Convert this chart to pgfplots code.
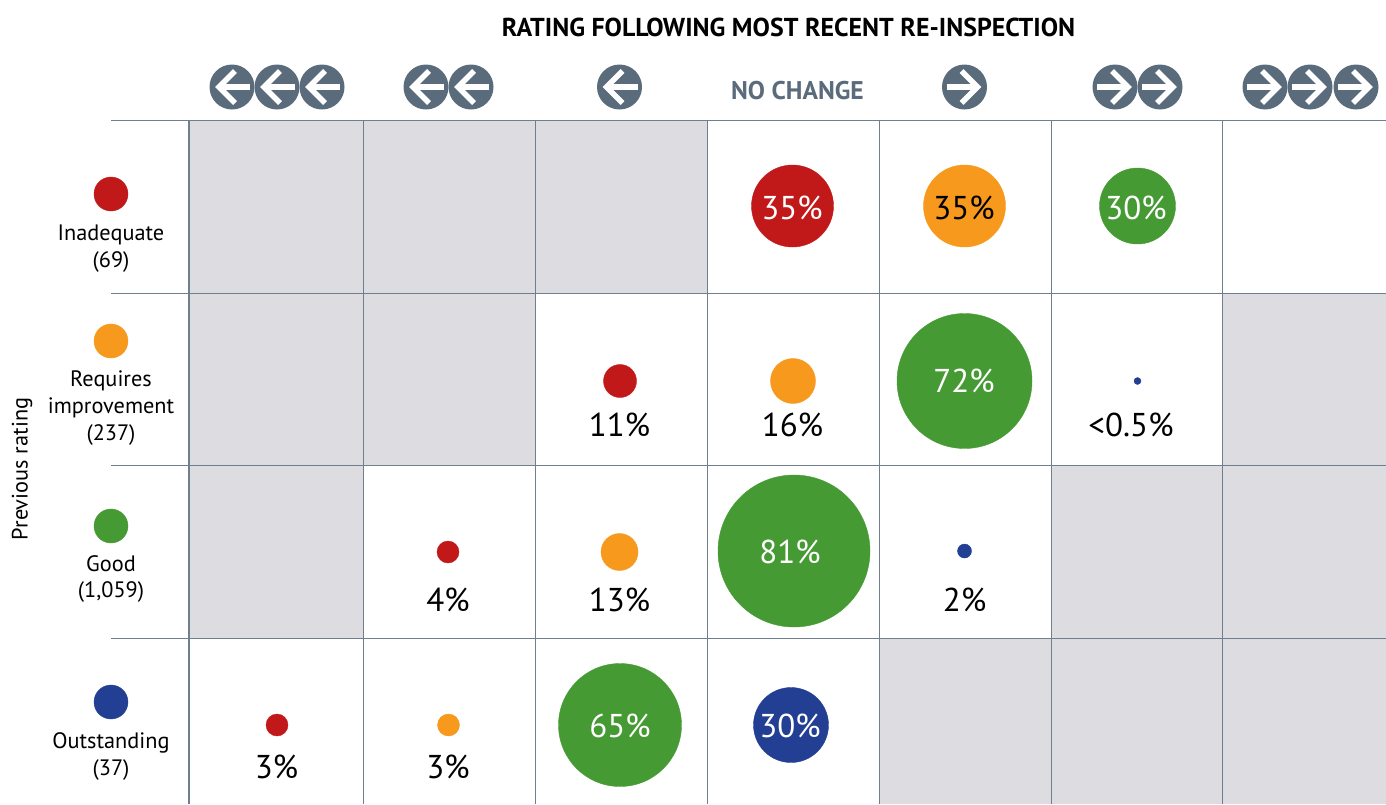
\documentclass[border=0pt]{standalone}
\usepackage{fontspec}
\setmainfont{PT Sans}
\usepackage{pgfplots}
\usepackage{pgfplotstable}
\pgfplotsset{compat=1.18}
\definecolor{cred}{HTML}{C1191A}
\definecolor{corange}{HTML}{F6991C}
\definecolor{cgreen}{HTML}{469A34}
\definecolor{cblue}{HTML}{233F93}
\definecolor{icon}{HTML}{5A6B7B}
\definecolor{gridc}{HTML}{6F7F8D}
\definecolor{cell}{HTML}{DCDCE1}
\pgfdeclareplotmark{arrL}{%
  \pgfpathcircle{\pgfpointorigin}{22.5pt}\pgfsetfillcolor{icon}\pgfusepathqfill
  \pgfsetstrokecolor{white}\pgfsetlinewidth{5.5pt}\pgfsetmiterjoin\pgfsetbuttcap
  \pgfpathmoveto{\pgfqpoint{18pt}{0pt}}\pgfpathlineto{\pgfqpoint{-13pt}{0pt}}\pgfusepathqstroke
  \pgfpathmoveto{\pgfqpoint{3pt}{16pt}}\pgfpathlineto{\pgfqpoint{-13pt}{0pt}}\pgfpathlineto{\pgfqpoint{3pt}{-16pt}}\pgfusepathqstroke}
\pgfdeclareplotmark{arrR}{%
  \pgfpathcircle{\pgfpointorigin}{22.5pt}\pgfsetfillcolor{icon}\pgfusepathqfill
  \pgfsetstrokecolor{white}\pgfsetlinewidth{5.5pt}\pgfsetmiterjoin\pgfsetbuttcap
  \pgfpathmoveto{\pgfqpoint{-18pt}{0pt}}\pgfpathlineto{\pgfqpoint{13pt}{0pt}}\pgfusepathqstroke
  \pgfpathmoveto{\pgfqpoint{-3pt}{16pt}}\pgfpathlineto{\pgfqpoint{13pt}{0pt}}\pgfpathlineto{\pgfqpoint{-3pt}{-16pt}}\pgfusepathqstroke}
\pgfplotstableread{
x y r
792.5 206 41
620 381 16.5
448 552 11
277 725 11
111 194 17
}\redT
\pgfplotstableread{
x y r
964.5 206 41
793 381 22.5
619.5 552 18.5
448.5 725 11
111 341 17
}\orangeT
\pgfplotstableread{
x y r
1137.5 206 38
964.5 381 67.5
794 551 76
620 725 61.5
111 526 17
}\greenT
\pgfplotstableread{
x y r
1137.5 381 3.5
964.5 551 7
791 725 37.5
111 702 17
}\blueT
\pgfplotsset{bub/.style={scatter,only marks,mark=*,
  scatter/use mapped color={draw=#1,fill=#1},
  point meta=0,
  visualization depends on={\thisrow{r}\as\rr},
  scatter/@pre marker code/.append style={/tikz/mark size=\rr pt}},
  frame/.style={at={(0pt,0pt)},anchor=south west,
  scale only axis,width=1386pt,height=804pt,
  xmin=0,xmax=1386,ymin=0,ymax=804,y dir=reverse,
  hide axis,clip=true}}
\newcommand{\pct}{\fontsize{33}{36}\selectfont}
\newcommand{\lab}{\fontsize{22.3}{26}\selectfont}
\begin{document}
\begin{tikzpicture}
\path[use as bounding box] (0pt,0pt) rectangle (1386pt,804pt);
\begin{axis}[frame]
% grey cells
\addplot[fill=cell,draw=none] coordinates {(190,120)(707,120)(707,293)(190,293)} -- cycle;
\addplot[fill=cell,draw=none] coordinates {(190,293)(535,293)(535,465)(190,465)} -- cycle;
\addplot[fill=cell,draw=none] coordinates {(190,465)(363,465)(363,638)(190,638)} -- cycle;
\addplot[fill=cell,draw=none] coordinates {(1222,293)(1386,293)(1386,465)(1222,465)} -- cycle;
\addplot[fill=cell,draw=none] coordinates {(1051,465)(1386,465)(1386,638)(1051,638)} -- cycle;
\addplot[fill=cell,draw=none] coordinates {(879,638)(1386,638)(1386,804)(879,804)} -- cycle;
% grid
\addplot[gridc,line width=0.9pt] coordinates {(111,120.5)(1386,120.5)};
\addplot[gridc,line width=0.9pt] coordinates {(111,293)(1386,293)};
\addplot[gridc,line width=0.9pt] coordinates {(111,465.5)(1386,465.5)};
\addplot[gridc,line width=0.9pt] coordinates {(111,638)(1386,638)};
\addplot[gridc,line width=0.9pt] coordinates {(363,120)(363,804)};
\addplot[gridc,line width=0.9pt] coordinates {(535,120)(535,804)};
\addplot[gridc,line width=0.9pt] coordinates {(707,120)(707,804)};
\addplot[gridc,line width=0.9pt] coordinates {(879,120)(879,804)};
\addplot[gridc,line width=0.9pt] coordinates {(1051,120)(1051,804)};
\addplot[gridc,line width=0.9pt] coordinates {(1222,120)(1222,804)};
\addplot[gridc,line width=2.6pt] coordinates {(189,120)(189,804)};
% bubbles
\addplot[bub=cred] table[x=x,y=y] {\redT};
\addplot[bub=corange] table[x=x,y=y] {\orangeT};
\addplot[bub=cgreen] table[x=x,y=y] {\greenT};
\addplot[bub=cblue] table[x=x,y=y] {\blueT};
% arrows
\addplot[only marks,mark=arrL] coordinates {(232,87)(277,87)(322,87)(426,87)(471,87)(619.5,87)};
\addplot[only marks,mark=arrR] coordinates {(964.5,87)(1115,87)(1160,87)(1265,87)(1310,87)(1356,87)};
\end{axis}
\begin{axis}[frame]
\addplot[draw=none] coordinates {(0,0)};
% header
\node[font=\bfseries\fontsize{25.9}{28}\selectfont] at (axis cs:788.5,27) {RATING FOLLOWING MOST RECENT RE-INSPECTION};
\node[font=\bfseries\fontsize{25.6}{28}\selectfont,text=icon] at (axis cs:797.5,90.5) {NO CHANGE};
% row labels
\node[font=\lab] at (axis cs:111,234.5) {Inadequate};
\node[font=\lab] at (axis cs:111,262) {(69)};
\node[font=\lab] at (axis cs:111,381) {Requires};
\node[font=\lab] at (axis cs:111,408) {improvement};
\node[font=\lab] at (axis cs:111,435) {(237)};
\node[font=\lab] at (axis cs:111,564) {Good};
\node[font=\lab] at (axis cs:111,592) {(1,059)};
\node[font=\lab] at (axis cs:111,743) {Outstanding};
\node[font=\lab] at (axis cs:111,770) {(37)};
\node[font=\lab,rotate=90] at (axis cs:22,469) {Previous rating};
% percentages in bubbles
\node[font=\pct,text=white] at (axis cs:792,208) {35\%};
\node[font=\pct] at (axis cs:964,208) {35\%};
\node[font=\pct,text=white] at (axis cs:1136,208) {30\%};
\node[font=\pct,text=white] at (axis cs:964,381) {72\%};
\node[font=\pct,text=white] at (axis cs:790,552) {81\%};
\node[font=\pct,text=white] at (axis cs:620,726) {65\%};
\node[font=\pct,text=white] at (axis cs:790,726) {30\%};
% percentages below
\node[font=\pct] at (axis cs:619.5,425) {11\%};
\node[font=\pct] at (axis cs:792.5,425) {16\%};
\node[font=\pct] at (axis cs:1131,425) {<0.5\%};
\node[font=\pct] at (axis cs:448,600) {4\%};
\node[font=\pct] at (axis cs:619.5,600) {13\%};
\node[font=\pct] at (axis cs:964.5,600) {2\%};
\node[font=\pct] at (axis cs:276.5,767) {3\%};
\node[font=\pct] at (axis cs:448,767) {3\%};
\end{axis}
\end{tikzpicture}
\end{document}
